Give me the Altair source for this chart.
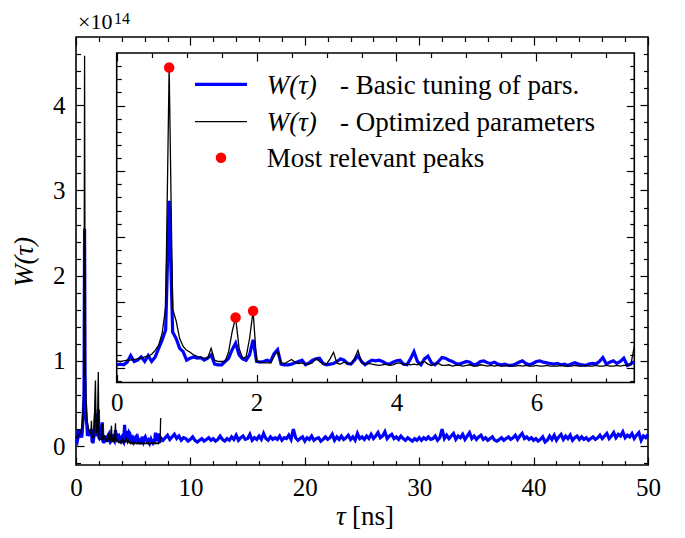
import altair as alt
import pandas as pd

# ---------------- data (values in units of 1e14) ----------------
fine_t_start, fine_t_step = 0.0, 0.05      # 0 .. 7.4 ns
tail_t_start, tail_t_step = 7.6, 0.2       # 7.6 .. 50 ns

blue_fine = [
    0.05, 0.06, 0.05, 0.09, 0.19, 0.10, 0.12, 0.17, 0.10, 0.19,
    0.10, 0.17, 0.30, 0.43, 0.58, 2.55, 0.55, 0.45, 0.30, 0.25,
    0.12, 0.15, 0.17, 0.15, 0.16, 0.12, 0.15, 0.20, 0.06, 0.05,
    0.05, 0.10, 0.15, 0.28, 0.38, 0.20, 0.14, 0.12, 0.20, 0.43,
    0.10, 0.09, 0.10, 0.12, 0.10, 0.22, 0.28, 0.06, 0.05, 0.05,
    0.06, 0.08, 0.10, 0.12, 0.05, 0.08, 0.12, 0.14, 0.15, 0.07,
    0.05, 0.06, 0.07, 0.10, 0.14, 0.12, 0.07, 0.06, 0.12, 0.19,
    0.10, 0.05, 0.09, 0.12, 0.11, 0.12,
    0.10, 0.07, 0.06, 0.09, 0.11, 0.12, 0.06, 0.05, 0.14, 0.25,
    0.10, 0.05, 0.14, 0.18, 0.08, 0.05, 0.10, 0.16, 0.15, 0.12,
    0.10, 0.07, 0.06, 0.08, 0.10, 0.09, 0.05, 0.06, 0.10, 0.11,
    0.08, 0.07, 0.09, 0.06, 0.05, 0.06, 0.04, 0.04, 0.06, 0.09,
    0.11, 0.07, 0.05, 0.07, 0.10, 0.11, 0.09, 0.08, 0.07, 0.06,
    0.07, 0.05, 0.06, 0.04, 0.06, 0.08, 0.06, 0.05, 0.04, 0.06,
    0.07, 0.06, 0.10, 0.16, 0.06, 0.09, 0.11, 0.07, 0.10, 0.15,
    0.04, 0.06, 0.10,
]

black_fine = [
    0.11, 0.10, 0.11, 0.12, 0.12, 0.13, 0.14, 0.15, 0.17, 0.18,
    0.21, 0.27, 0.35, 0.53, 0.93, 4.58, 0.90, 0.72, 0.45, 0.33,
    0.27, 0.24, 0.20, 0.18, 0.16, 0.15, 0.15, 0.30, 0.12, 0.10,
    0.10, 0.10, 0.25, 0.55, 0.77, 0.30, 0.15, 0.17, 0.45, 0.87,
    0.10, 0.09, 0.08, 0.08, 0.08, 0.18, 0.26, 0.08, 0.07, 0.10,
    0.13, 0.09, 0.07, 0.08, 0.06, 0.06, 0.08, 0.15, 0.10, 0.06,
    0.06, 0.14, 0.24, 0.07, 0.06, 0.09, 0.07, 0.06, 0.15, 0.27,
    0.08, 0.06, 0.07, 0.06, 0.05, 0.04,
    0.05, 0.06, 0.04, 0.05, 0.07, 0.08, 0.05, 0.06, 0.05, 0.06,
    0.05, 0.08, 0.10, 0.06, 0.04, 0.06, 0.07, 0.04, 0.04, 0.05,
    0.03, 0.04, 0.04, 0.03, 0.04, 0.05, 0.03, 0.03, 0.05, 0.04,
    0.03, 0.04, 0.03, 0.04, 0.03, 0.03, 0.04, 0.03, 0.03, 0.04,
    0.03, 0.04, 0.03, 0.03, 0.04, 0.03, 0.03, 0.04, 0.03, 0.03,
    0.03, 0.04, 0.03, 0.03, 0.03, 0.04, 0.03, 0.03, 0.04, 0.03,
    0.03, 0.04, 0.03, 0.03, 0.04, 0.03, 0.03, 0.04, 0.03, 0.04,
    0.04, 0.05, 0.33,
]

blue_tail = [
    0.07, 0.10, 0.13, 0.08, 0.11, 0.14, 0.09, 0.12, 0.07, 0.10,
    0.09, 0.06, 0.08, 0.11, 0.07, 0.05, 0.07, 0.09, 0.06, 0.08,
    0.10, 0.07, 0.09, 0.06, 0.08, 0.12, 0.08, 0.06, 0.09, 0.07,
    0.11, 0.08, 0.13, 0.07, 0.10, 0.12, 0.08, 0.09, 0.14, 0.07,
    0.10, 0.08, 0.12, 0.08, 0.15, 0.09, 0.07, 0.11, 0.08, 0.10,
    0.08, 0.12, 0.07, 0.10, 0.09, 0.13, 0.08, 0.20, 0.10, 0.07,
    0.09, 0.11, 0.06, 0.10, 0.08, 0.12, 0.07, 0.09, 0.10, 0.06,
    0.08, 0.11, 0.08, 0.10, 0.14, 0.07, 0.11, 0.08, 0.12, 0.08,
    0.10, 0.13, 0.08, 0.11, 0.07, 0.15, 0.09, 0.11, 0.08, 0.12,
    0.09, 0.14, 0.09, 0.12, 0.16, 0.10, 0.12, 0.17, 0.09, 0.12,
    0.14, 0.09, 0.11, 0.08, 0.12, 0.09, 0.07, 0.10, 0.08, 0.06,
    0.09, 0.07, 0.10, 0.07, 0.10, 0.08, 0.11, 0.08, 0.09, 0.12,
    0.07, 0.10, 0.20, 0.09, 0.13, 0.09, 0.12, 0.15, 0.08, 0.12,
    0.10, 0.14, 0.08, 0.12, 0.16, 0.09, 0.12, 0.08, 0.11, 0.13,
    0.08, 0.10, 0.07, 0.09, 0.11, 0.07, 0.06, 0.08, 0.10, 0.07,
    0.09, 0.11, 0.08, 0.10, 0.13, 0.08, 0.12, 0.15, 0.09, 0.11,
    0.08, 0.10, 0.07, 0.09, 0.06, 0.08, 0.11, 0.05, 0.07, 0.12,
    0.08, 0.13, 0.07, 0.11, 0.14, 0.08, 0.12, 0.09, 0.13, 0.07,
    0.10, 0.12, 0.08, 0.11, 0.08, 0.10, 0.07, 0.09, 0.11, 0.08,
    0.10, 0.13, 0.09, 0.12, 0.15, 0.09, 0.12, 0.16, 0.10, 0.14,
    0.12, 0.17, 0.10, 0.13, 0.11, 0.15, 0.09, 0.13, 0.16, 0.07,
    0.12, 0.10, 0.14,
]

peak_t = [0.75, 1.70, 1.95]
peak_w = [4.58, 0.77, 0.87]

main_x_major = [0, 10, 20, 30, 40, 50]
main_x_minor = [2, 4, 6, 8, 12, 14, 16, 18, 22, 24, 26, 28, 32, 34, 36, 38, 42, 44, 46, 48]
y_major = [0, 1, 2, 3, 4]
y_minor = [-0.2, 0.2, 0.4, 0.6, 0.8, 1.2, 1.4, 1.6, 1.8, 2.2, 2.4, 2.6, 2.8,
           3.2, 3.4, 3.6, 3.8, 4.2, 4.4, 4.6]
inset_x_major = [0, 2, 4, 6]
inset_x_minor = [0.5, 1, 1.5, 2.5, 3, 3.5, 4.5, 5, 5.5, 6.5, 7]

main_x_dom = [0, 50]
y_dom = [-0.22, 4.8]
inset_x_dom = [0, 7.4]

legend_labels = ["- Basic tuning of pars.", "- Optimized parameters", "Most relevant peaks"]

# ---------------- tables ----------------
t_fine = [round(fine_t_start + i * fine_t_step, 2) for i in range(len(blue_fine))]
t_tail = [round(tail_t_start + i * tail_t_step, 2) for i in range(len(blue_tail))]
blue_all = pd.DataFrame({"t": t_fine + t_tail, "w": blue_fine + blue_tail})
blue_ins = pd.DataFrame({"t": t_fine, "w": blue_fine})
black_df = pd.DataFrame({"t": t_fine, "w": black_fine})
peaks_df = pd.DataFrame({"t": peak_t, "w": peak_w})
frame_df = pd.DataFrame({"x0": [inset_x_dom[0]], "x1": [inset_x_dom[1]],
                         "y0": [y_dom[0]], "y1": [y_dom[1]]})
one = pd.DataFrame({"a": [0]})

W, H = 572, 428
INS_L, INS_R, INS_T, INS_B = 40.7, 558.3, 16.0, 345.5
FONT = "Liberation Serif"
FS = 25
LFS = 27
MAJ, MIN = 8, 4.5
BLUE = "#0000ff"


def sx_main():
    return alt.Scale(domain=main_x_dom, nice=False, zero=False)


def sy_main():
    return alt.Scale(domain=y_dom, nice=False, zero=False)


def sx_ins():
    return alt.Scale(domain=inset_x_dom, range=[INS_L, INS_R], nice=False, zero=False)


def sy_ins():
    return alt.Scale(domain=y_dom, range=[INS_B, INS_T], nice=False, zero=False)


def ax(orient, values, size, offset, labels=False, pad=0):
    kw = dict(orient=orient, values=values, tickSize=size, offset=offset,
              domain=False, grid=False, ticks=True, labels=labels, title=None,
              tickColor="black", tickWidth=1.2, zindex=2)
    if labels:
        kw.update(labelFont=FONT, labelFontSize=FS, labelColor="black",
                  labelPadding=pad, labelFlush=False, labelOverlap=False)
    return alt.Axis(**kw)


def enc(xs, ys, xa, ya, field_x="t", field_y="w"):
    return dict(x=alt.X(f"{field_x}:Q", scale=xs, axis=xa),
                y=alt.Y(f"{field_y}:Q", scale=ys, axis=ya))


# ---------------- main plot ----------------
m1 = alt.Chart(blue_all).mark_line(color=BLUE, strokeWidth=3.2).encode(
    **enc(sx_main(), sy_main(),
          ax("bottom", main_x_major, MAJ, -MAJ, True, 10),
          ax("left", y_major, MAJ, -MAJ, True, 11)))
m2 = alt.Chart(black_df).mark_line(color="black", strokeWidth=1.3).encode(
    **enc(sx_main(), sy_main(),
          ax("top", main_x_major, MAJ, -MAJ),
          ax("right", y_major, MAJ, -MAJ)))
m3 = alt.Chart(black_df).mark_line(strokeOpacity=0).encode(
    **enc(sx_main(), sy_main(),
          ax("bottom", main_x_minor, MIN, -MIN),
          ax("left", y_minor, MIN, -MIN)))
m4 = alt.Chart(black_df).mark_line(strokeOpacity=0).encode(
    **enc(sx_main(), sy_main(),
          ax("top", main_x_minor, MIN, -MIN),
          ax("right", y_minor, MIN, -MIN)))

# ---------------- inset ----------------
i0 = alt.Chart(frame_df).mark_rect(fill="white", stroke="black", strokeWidth=1.6).encode(
    x=alt.X("x0:Q", scale=sx_ins(),
            axis=ax("bottom", inset_x_major, MAJ, INS_B - H - MAJ, True, 8)),
    x2="x1",
    y=alt.Y("y0:Q", scale=sy_ins(), axis=ax("left", y_major, MAJ, -(INS_L + MAJ))),
    y2="y1")
i1 = alt.Chart(blue_ins).mark_line(color=BLUE, strokeWidth=3.2).encode(
    **enc(sx_ins(), sy_ins(),
          ax("top", inset_x_major, MAJ, -(INS_T + MAJ)),
          ax("right", y_major, MAJ, INS_R - W - MAJ)))
i2 = alt.Chart(black_df).mark_line(color="black", strokeWidth=1.3).encode(
    **enc(sx_ins(), sy_ins(),
          ax("bottom", inset_x_minor, MIN, INS_B - H - MIN),
          ax("left", y_minor, MIN, -(INS_L + MIN))))
i3 = alt.Chart(peaks_df).mark_circle(color="red", size=110, opacity=1).encode(
    **enc(sx_ins(), sy_ins(),
          ax("top", inset_x_minor, MIN, -(INS_T + MIN)),
          ax("right", y_minor, MIN, INS_R - W - MIN)))


# ---------------- legend & texts ----------------
def txt(s, x, y, size=FS, style="normal", align="left", baseline="alphabetic", angle=0):
    return alt.Chart(one).mark_text(text=s, font=FONT, fontSize=size, fontStyle=style,
                                    align=align, baseline=baseline, angle=angle,
                                    color="black").encode(x=alt.value(x), y=alt.value(y))


leg_blue = alt.Chart(one).mark_rule(color=BLUE, strokeWidth=3.2).encode(
    x=alt.value(119), x2=alt.value(171), y=alt.value(47.3))
leg_black = alt.Chart(one).mark_rule(color="black", strokeWidth=1.3).encode(
    x=alt.value(119), x2=alt.value(171), y=alt.value(84.7))
leg_dot = alt.Chart(one).mark_circle(color="red", size=110, opacity=1).encode(
    x=alt.value(145), y=alt.value(120.7))

texts = [
    txt("W(τ)", 190.7, 56.5, size=LFS, style="italic"),
    txt(legend_labels[0], 264, 56.5, size=LFS),
    txt("W(τ)", 190.7, 93.5, size=LFS, style="italic"),
    txt(legend_labels[1], 264, 93.5, size=LFS),
    txt(legend_labels[2], 190.7, 130, size=LFS),
    txt("×10", 2, -8, size=22),
    txt("14", 38, -13, size=16),
    txt("τ", 260, 488, size=LFS, style="italic"),
    txt("[ns]", 276, 488, size=LFS),
    txt("W(τ)", -51, 225, size=LFS, style="italic", align="center", baseline="middle", angle=270),
]

chart = alt.layer(m1, m2, m3, m4, i0, i1, i2, i3, leg_blue, leg_black, leg_dot, *texts).resolve_scale(
    x="independent", y="independent").resolve_axis(x="independent", y="independent").properties(
    width=W, height=H, autosize=alt.AutoSizeParams(type="none"),
    padding={"left": 68, "top": 29, "right": 29, "bottom": 65}).configure_view(
    stroke="black", strokeWidth=1.6)

chart.save("out.html", embed_options={"renderer": "svg", "actions": False})
